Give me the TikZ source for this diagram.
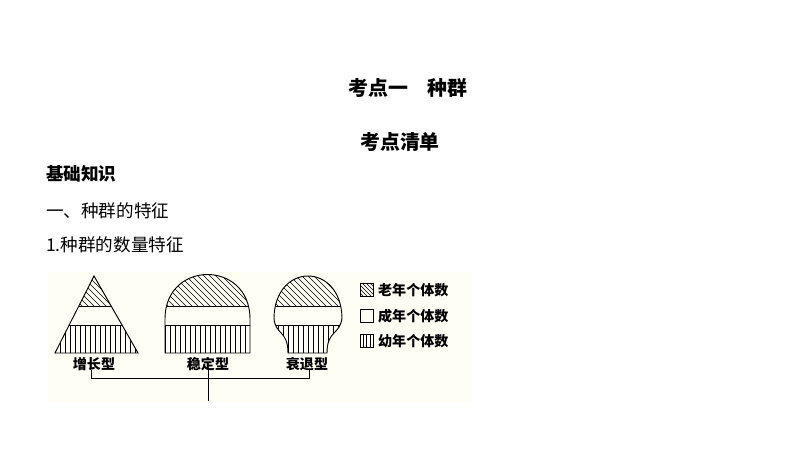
\documentclass[tikz,border=0pt]{standalone}
\usepackage{fontspec}
\setmainfont{Noto Sans CJK SC}
\tikzset{
title/.style={font=\fontsize{17}{20}\selectfont\bfseries},
body/.style={font=\fontsize{15}{18}\selectfont, anchor=west},
small/.style={font=\fontsize{12}{14}\selectfont\bfseries},
hatch/.style={line width=0.5pt}
}
% hatching of a region between two heights
\newcommand{\oldlines}[3]{%
  \foreach \x in {#1,...,#2} \draw[hatch] (\x,260) -- ++(46,46);}
\newcommand{\younglines}[3]{%
  \foreach \x in {#1,...,#2} \draw[hatch] (\x,325) -- (\x,360);}
\newcommand{\bands}[3]{%
  \begin{scope}
  \clip #1;
  \begin{scope}
  \clip (0,260) rectangle (400,306);
  \foreach \x in {#2} \draw[hatch] (\x,260) -- ++(46,46);
  \end{scope}
  \foreach \x in {#3} \draw[hatch] (\x,325) -- (\x,360);
  \draw (0,306) -- (400,306) (0,325) -- (400,325);
  \end{scope}
  \draw[thick] #1;}
\begin{document}
\begin{tikzpicture}[x=0.03cm,y=-0.03cm]
\useasboundingbox (0,0) rectangle (800,450);
\fill[yellow!4] (48,272) rectangle (472,402);

% headings
\node[title] (head) at (408,88) {考点一\quad 种群};
\node[title] (list) at (400,142) {考点清单};
\node[body, font=\fontsize{15}{18}\selectfont\bfseries] (basic) at (42,174) {基础知识};
\node[body] (feat) at (42,211) {一、种群的特征};
\node[body] (num) at (42,245) {1.种群的数量特征};

% age pyramids
\bands{(94,276) -- (138,353) -- (55,353) -- cycle}{30,36,...,140}{55,60,...,140}
\bands{(165,353) -- (165,318) .. controls (166,260) and (249,260) .. (250,318) -- (250,353) -- cycle}{110,116,...,255}{165,170,...,250}
\bands{(288,353) .. controls (288,330) and (275,335) .. (274,318) .. controls (275,262) and (341,262) .. (342,318) .. controls (340,335) and (327,330) .. (327,353) -- cycle}{220,226,...,345}{273,278,...,345}

\node[small] (grow) at (94,364) {增长型};
\node[small] (stab) at (208,364) {稳定型};
\node[small] (decl) at (307,364) {衰退型};

% bracket
\coordinate (bl) at (91,378);
\coordinate (br) at (309,378);
\coordinate (bm) at (208,378);
\coordinate (stem) at (208,401);
\draw (bl) -- ++(0,-8) (bl) -- (br) -- ++(0,-8);
\draw (bm) -- ++(0,-8) (bm) -- (stem);

% legend
\begin{scope}
\clip (360,283) rectangle (373,296);
\foreach \x in {346,350,...,374} \draw[hatch] (\x,283) -- ++(13,13);
\end{scope}
\draw (360,283) rectangle (373,296);
\draw (360,309) rectangle (373,322);
\foreach \x in {363,366.5,370} \draw[hatch] (\x,334) -- (\x,347);
\draw (360,334) rectangle (373,347);
\node[small, anchor=west] (lold) at (374,290) {老年个体数};
\node[small, anchor=west] (lmid) at (374,316) {成年个体数};
\node[small, anchor=west] (lyou) at (374,341) {幼年个体数};
\end{tikzpicture}
\end{document}
